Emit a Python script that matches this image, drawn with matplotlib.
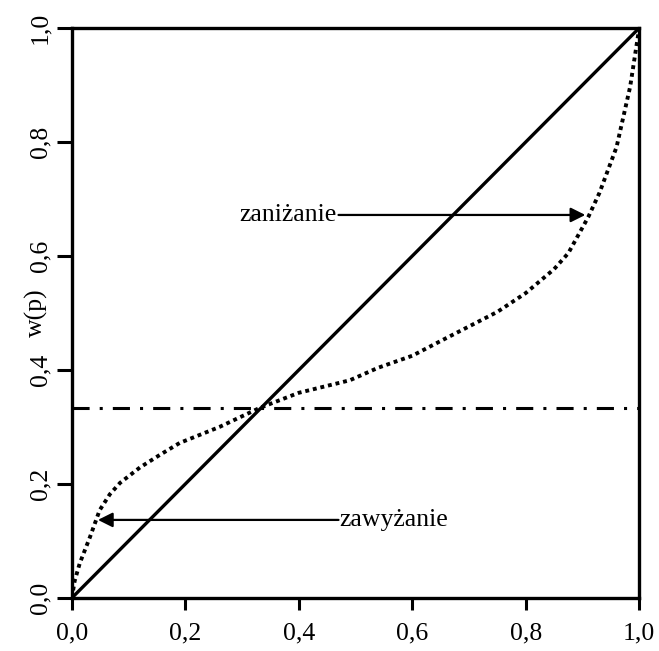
import numpy as np
import matplotlib
matplotlib.use("Agg")
import matplotlib.pyplot as plt
import matplotlib.transforms as mtransforms

plt.rcParams['font.family'] = ['Liberation Serif', 'DejaVu Serif']

# probability weighting function
p_vals = [0.0, 0.005, 0.014, 0.032, 0.049, 0.067, 0.085, 0.12, 0.155, 0.19,
          0.26, 0.33, 0.40, 0.49, 0.54, 0.60, 0.66, 0.75, 0.80, 0.85,
          0.875, 0.91, 0.93, 0.96, 0.984, 1.0]
w_vals = [0.0, 0.030, 0.061, 0.107, 0.154, 0.182, 0.202, 0.229, 0.251, 0.272,
          0.300, 0.333, 0.360, 0.382, 0.404, 0.425, 0.456, 0.502, 0.535, 0.577,
          0.605, 0.668, 0.711, 0.791, 0.897, 1.0]
diag = [0.0, 1.0]
ref_level = 1 / 3

ticks = [0.0, 0.2, 0.4, 0.6, 0.8, 1.0]
tick_labels = ['0,0', '0,2', '0,4', '0,6', '0,8', '1,0']

fig = plt.figure(figsize=(6.59, 6.51), dpi=100)
ax = fig.add_axes([0.109, 0.0814, 0.861, 0.8756])

ax.plot(diag, diag, color='black', lw=2.4, solid_capstyle='butt')
ax.plot(p_vals, w_vals, color='black', lw=2.8, linestyle=(0, (1, 1)))
ax.plot([0, 1], [ref_level, ref_level], color='black', lw=2.2,
        linestyle=(0, (5.6, 3.3, 1, 3.3)))

# annotations
arrow = dict(arrowstyle='-|>', mutation_scale=22, lw=1.6, color='black',
             shrinkA=0, shrinkB=0)
ax.annotate('', xy=(0.905, 0.672), xytext=(0.47, 0.672), arrowprops=arrow)
ax.text(0.467, 0.672, 'zaniżanie', ha='right', va='center', fontsize=18.5)
ax.annotate('', xy=(0.046, 0.137), xytext=(0.47, 0.137), arrowprops=arrow)
ax.text(0.472, 0.137, 'zawyżanie', ha='left', va='center', fontsize=18.5)

ax.set_xlim(0, 1)
ax.set_ylim(0, 1)
ax.set_xticks(ticks)
ax.set_xticklabels(tick_labels, fontsize=18.5)
ax.set_yticks(ticks)
ax.set_yticklabels(tick_labels, fontsize=18.5, rotation=90, va='center')
ax.tick_params(axis='x', direction='out', length=8.5, width=2.2, pad=9)
ax.tick_params(axis='y', direction='out', length=11, width=2.2, pad=3.6)

for s in ax.spines.values():
    s.set_linewidth(2.4)

trans = mtransforms.blended_transform_factory(ax.transAxes, ax.transData)
ax.text(-0.062, 0.5, 'w(p)', transform=trans, rotation=90,
        ha='center', va='center', fontsize=18.5)

fig.savefig('out.png', dpi=100)
